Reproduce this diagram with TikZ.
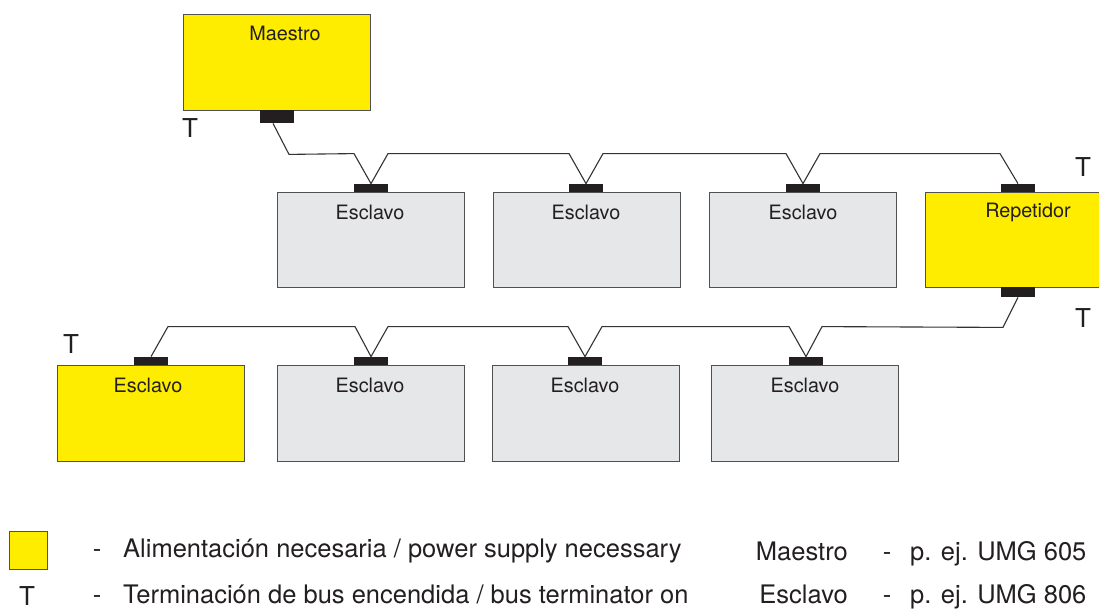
\documentclass[tikz,border=0pt]{standalone}
\usepackage{fontspec}
\setmainfont{TeX Gyre Heros}
\definecolor{ylw}{HTML}{FFED00}
\definecolor{boxgray}{HTML}{E6E7E9}
\definecolor{boxline}{HTML}{505050}
\definecolor{connblack}{HTML}{231F20}
\definecolor{wirecol}{HTML}{333333}
\definecolor{txt}{HTML}{231F20}
\begin{document}
\begin{tikzpicture}[x=1pt,y=-1pt,
  devbox/.style={draw=boxline, line width=1.2pt, minimum width=187pt, minimum height=95pt, inner sep=0pt, anchor=north west},
  slavebox/.style={devbox, fill=boxgray},
  powerbox/.style={devbox, fill=ylw},
  conn/.style={fill=connblack, inner sep=0pt, minimum width=34pt, minimum height=8pt, anchor=south},
  wire/.style={draw=wirecol, line width=1.1pt, line join=miter},
  boxtext/.style={text=txt, font=\fontsize{19.8}{22}\selectfont, inner sep=0pt},
  tlabel/.style={text=txt, font=\fontsize{26}{28}\selectfont, inner sep=0pt},
  legtext/.style={text=txt, font=\fontsize{25.5}{28}\selectfont, inner sep=0pt}
]
\useasboundingbox (0,0) rectangle (1099,610);
\clip (0,0) rectangle (1099,610);
\fill[white] (0,0) rectangle (1099,610);

% devices
\node[powerbox, minimum height=96pt] (m) at (183,14) {};
\node[slavebox] (s1) at (277,192) {};
\node[slavebox] (s2) at (493,192) {};
\node[slavebox] (s3) at (709,192) {};
\node[powerbox] (r) at (925,192) {};
\node[powerbox, minimum height=96pt] (s5) at (57,365) {};
\node[slavebox, minimum height=96pt] (s6) at (277,365) {};
\node[slavebox, minimum height=96pt] (s7) at (492,365) {};
\node[slavebox, minimum height=96pt] (s8) at (711,365) {};

% texts in boxes
\node[boxtext] (tm) at (285,33) {Maestro};
\node[boxtext] (t1) at (370,212) {Esclavo};
\node[boxtext] (t2) at (586,212) {Esclavo};
\node[boxtext] (t3) at (803,212) {Esclavo};
\node[boxtext] (tr) at (1028,212) {Repetidor};
\node[boxtext] (t5) at (148,385) {Esclavo};
\node[boxtext] (t6) at (370,385) {Esclavo};
\node[boxtext] (t7) at (585,385) {Esclavo};
\node[boxtext] (t8) at (805,385) {Esclavo};

% connectors
\node[conn, anchor=north, minimum height=13pt] (cm) at (277,110) {};
\node[conn] (c1) at (371,192) {};
\node[conn] (c2) at (586,192) {};
\node[conn] (c3) at (803,192) {};
\node[conn] (cr) at (1018,192) {};
\node[conn, anchor=north, minimum height=10pt] (cb) at (1018,287) {};
\node[conn] (c5) at (151,365) {};
\node[conn] (c6) at (371,365) {};
\node[conn] (c7) at (585,365) {};
\node[conn] (c8) at (806,365) {};

% bus, first segment
\draw[wire] ([xshift=-4pt]cm.south) -- ++(16,31)
  -- ([shift={(-17,-30)}]c1.north) -- (c1.north) -- ([shift={(17,-30)}]c1.north)
  -- ([shift={(-17,-30)}]c2.north) -- (c2.north) -- ([shift={(17,-30)}]c2.north)
  -- ([shift={(-17,-30)}]c3.north) -- (c3.north) -- ([shift={(17,-30)}]c3.north)
  -- ([shift={(-18,-30)}]cr.north) -- (cr.north);

% bus, second segment
\draw[wire] (cb.south) -- ++(-15,30)
  -- ([shift={(16,-30)}]c8.north) -- (c8.north) -- ([shift={(-17,-30)}]c8.north)
  -- ([shift={(17,-30)}]c7.north) -- (c7.north) -- ([shift={(-17,-30)}]c7.north)
  -- ([shift={(17,-30)}]c6.north) -- (c6.north) -- ([shift={(-16,-30)}]c6.north)
  -- ([shift={(17,-30)}]c5.north) -- (c5.north);

% terminators
\node[tlabel] (tt1) at (190,128) {T};
\node[tlabel] (tt2) at (1083,167) {T};
\node[tlabel] (tt3) at (1083,318) {T};
\node[tlabel] (tt4) at (71,344) {T};

% legend
\node[draw=boxline, line width=1.2pt, fill=ylw, minimum width=38pt, minimum height=38pt, inner sep=0pt, anchor=north west] (lsq) at (9,531) {};
\node[legtext, anchor=base] (ld1) at (97,557) {-};
\node[legtext, anchor=base west] (lt1) at (123,557) {Alimentación necesaria / power supply necessary};
\node[tlabel, anchor=base] (lT) at (27,605) {T};
\node[legtext, anchor=base] (ld2) at (97,603) {-};
\node[legtext, anchor=base west] (lt2) at (123,603) {Terminación de bus encendida / bus terminator on};

\node[legtext, anchor=base east] (lm) at (848,560) {Maestro};
\node[legtext, anchor=base] (ld3) at (887,560) {-};
\node[legtext, anchor=base west] (lm2) at (910,560) {p. ej. UMG 605};
\node[legtext, anchor=base east] (le) at (848,603) {Esclavo};
\node[legtext, anchor=base] (ld4) at (887,603) {-};
\node[legtext, anchor=base west] (le2) at (910,603) {p. ej. UMG 806};
\end{tikzpicture}
\end{document}
